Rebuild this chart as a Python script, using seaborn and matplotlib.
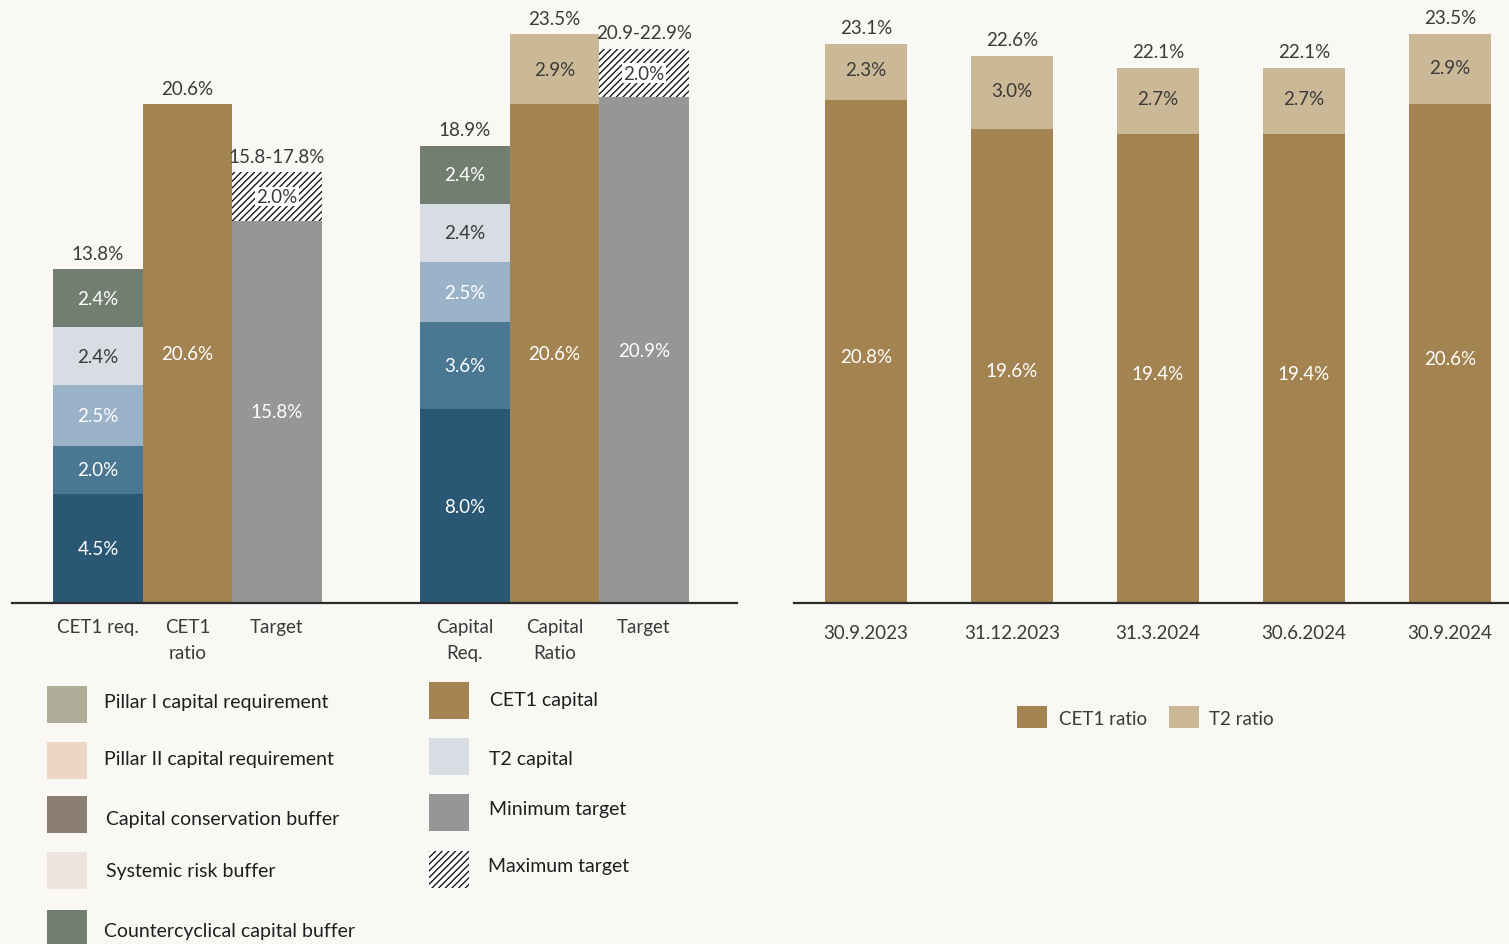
import matplotlib
matplotlib.use("Agg")
import matplotlib.pyplot as plt
import seaborn as sns
from matplotlib.patches import Rectangle

# ---------------- data ----------------
left_categories = ["CET1 req.", "CET1\nratio", "Target", "Capital\nReq.", "Capital\nRatio", "Target"]
cet1_req_parts = [4.5, 2.0, 2.5, 2.4, 2.4]
cap_req_parts = [8.0, 3.6, 2.5, 2.4, 2.4]
cet1_ratio = [20.6]
capital_ratio_parts = [20.6, 2.9]
cet1_target_parts = [15.8, 2.0]
cap_target_parts = [20.9, 2.0]
left_top_labels = ["13.8%", "20.6%", "15.8-17.8%", "18.9%", "23.5%", "20.9-22.9%"]

dates = ["30.9.2023", "31.12.2023", "31.3.2024", "30.6.2024", "30.9.2024"]
cet1_hist = [20.8, 19.6, 19.4, 19.4, 20.6]
t2_hist = [2.3, 3.0, 2.7, 2.7, 2.9]
total_hist = [23.1, 22.6, 22.1, 22.1, 23.5]

legend_left = ["Pillar I capital requirement", "Pillar II capital requirement",
               "Capital conservation buffer", "Systemic risk buffer",
               "Countercyclical capital buffer"]
legend_mid = ["CET1 capital", "T2 capital", "Minimum target", "Maximum target"]
legend_right = ["CET1 ratio", "T2 ratio"]

# ---------------- style ----------------
BG = "#F9F8F4"
DARK = "#3A3A3A"
C_DBLUE = "#2A5874"
C_MBLUE = "#4A7892"
C_LBLUE = "#9BB3C8"
C_GBLUE = "#D8DCE3"
C_GREEN = "#717E70"
C_BROWN = "#A38350"
C_TAN = "#CBB896"
C_GRAY = "#969696"
req_colors = [C_DBLUE, C_MBLUE, C_LBLUE, C_GBLUE, C_GREEN]
req_txt = ["white", "white", "white", DARK, "white"]

sns.set_style("white")
plt.rcParams["font.family"] = ["Lato", "DejaVu Sans"]
plt.rcParams["hatch.linewidth"] = 1.0
plt.rcParams["hatch.color"] = "#1a1a1a"

W, H = 1509, 945
fig = plt.figure(figsize=(W / 100, H / 100), dpi=100, facecolor=BG)
FS = 13.5
PX_PER_PCT = 24.2
HATCH = "/////"


def seg(ax, x, bottom, h, color, width=1.0, hatch=None):
    kw = dict(x=[x], y=[h], bottom=bottom, color=color, width=width,
              native_scale=True, errorbar=None, ax=ax, saturation=1,
              orient="x", linewidth=0)
    if hatch:
        kw.update(hatch=hatch, edgecolor="#1a1a1a")
    sns.barplot(**kw)


def style_ax(ax):
    ax.set_facecolor(BG)
    for s in ["left", "right", "top"]:
        ax.spines[s].set_visible(False)
    ax.spines["bottom"].set_color("#2b2b2b")
    ax.spines["bottom"].set_linewidth(1.6)
    ax.set_yticks([])
    ax.set_ylabel("")
    ax.set_xlabel("")
    ax.tick_params(axis="x", length=0, pad=11, labelsize=FS, labelcolor=DARK)


# ---------------- left chart ----------------
ax1 = fig.add_axes([12 / W, (H - 604) / H, 725 / W, 604 / H])
pos = [0, 1, 2, 4.1, 5.1, 6.1]


def req_stack(x, parts):
    b = 0
    for v, c, tc in zip(parts, req_colors, req_txt):
        seg(ax1, x, b, v, c)
        ax1.text(x, b + v / 2, f"{v:.1f}%", ha="center", va="center",
                 color=tc, fontsize=FS)
        b += v
    return b


def target_stack(x, parts):
    seg(ax1, x, 0, parts[0], C_GRAY)
    ax1.text(x, parts[0] / 2, f"{parts[0]:.1f}%", ha="center", va="center",
             color="white", fontsize=FS)
    seg(ax1, x, parts[0], parts[1], "white", hatch=HATCH)
    ax1.text(x, parts[0] + parts[1] / 2, f"{parts[1]:.1f}%", ha="center",
             va="center", color=DARK, fontsize=FS,
             bbox=dict(facecolor="white", edgecolor="none", pad=0.8))
    return parts[0] + parts[1]


tops = []
tops.append(req_stack(pos[0], cet1_req_parts))
seg(ax1, pos[1], 0, cet1_ratio[0], C_BROWN)
ax1.text(pos[1], cet1_ratio[0] / 2, f"{cet1_ratio[0]:.1f}%", ha="center",
         va="center", color="white", fontsize=FS)
tops.append(cet1_ratio[0])
tops.append(target_stack(pos[2], cet1_target_parts))
tops.append(req_stack(pos[3], cap_req_parts))
seg(ax1, pos[4], 0, capital_ratio_parts[0], C_BROWN)
ax1.text(pos[4], capital_ratio_parts[0] / 2, f"{capital_ratio_parts[0]:.1f}%",
         ha="center", va="center", color="white", fontsize=FS)
seg(ax1, pos[4], capital_ratio_parts[0], capital_ratio_parts[1], C_TAN)
ax1.text(pos[4], capital_ratio_parts[0] + capital_ratio_parts[1] / 2,
         f"{capital_ratio_parts[1]:.1f}%", ha="center", va="center",
         color=DARK, fontsize=FS)
tops.append(sum(capital_ratio_parts))
tops.append(target_stack(pos[5], cap_target_parts))

for x, t, lab in zip(pos, tops, left_top_labels):
    ax1.annotate(lab, (x, t), xytext=(0, 11.5), textcoords="offset points",
                 ha="center", va="center", color=DARK, fontsize=FS)

style_ax(ax1)
ax1.set_xlim((12 - 98) / 89.5, (737 - 98) / 89.5)
ax1.set_ylim(0, 604 / PX_PER_PCT)
ax1.set_xticks(pos)
ax1.set_xticklabels(left_categories, linespacing=1.65)

# ---------------- right chart ----------------
ax2 = fig.add_axes([794 / W, (H - 604) / H, 715 / W, 604 / H])
xr = list(range(len(dates)))
for x, c, t, tot in zip(xr, cet1_hist, t2_hist, total_hist):
    seg(ax2, x, 0, c, C_BROWN, width=0.56)
    seg(ax2, x, c, t, C_TAN, width=0.56)
    ax2.annotate(f"{c:.1f}%", (x, c / 2), xytext=(0, -3.5),
                 textcoords="offset points", ha="center", va="center",
                 color="white", fontsize=FS)
    ax2.annotate(f"{t:.1f}%", (x, c + t / 2), xytext=(0, 1.5),
                 textcoords="offset points", ha="center", va="center",
                 color=DARK, fontsize=FS)
    ax2.annotate(f"{tot:.1f}%", (x, c + t), xytext=(0, 12),
                 textcoords="offset points", ha="center", va="center",
                 color=DARK, fontsize=FS)
style_ax(ax2)
ax2.set_xlim(-72 / 146, 643 / 146)
ax2.set_ylim(0, 604 / PX_PER_PCT)
ax2.set_xticks(xr)
ax2.set_xticklabels(dates)
ax2.tick_params(axis="x", pad=15)


# ---------------- legends ----------------
def box(x, y, w, h, color, hatch=None):
    r = Rectangle((x / W, 1 - (y + h) / H), w / W, h / H,
                  transform=fig.transFigure, facecolor=color,
                  edgecolor="#1a1a1a" if hatch else color,
                  linewidth=0, hatch=hatch)
    fig.add_artist(r)


def ftext(x, y, s):
    fig.text(x / W, 1 - y / H, s, ha="left", va="center", fontsize=FS + 0.5,
             color="#1e1e1e")


left_leg_colors = ["#AEAE98", "#EDD6C3", "#8A7F71", "#EDE5DD", C_GREEN]
left_box_y = [687, 743, 797, 853, 911]
left_txt = [(104, 703), (104, 760), (106, 820), (106, 872), (104, 932)]
for lab, c, by, (tx, ty) in zip(legend_left, left_leg_colors, left_box_y, left_txt):
    box(47, by, 40, 37, c)
    ftext(tx, ty, lab)

mid_colors = [C_BROWN, C_GBLUE, C_GRAY, "white"]
mid_box_y = [683, 739, 795, 852]
mid_txt = [(490, 701), (489, 759), (489, 809), (488, 867)]
for i, (lab, c, by, (tx, ty)) in enumerate(zip(legend_mid, mid_colors, mid_box_y, mid_txt)):
    box(429, by, 40, 37, c, hatch=HATCH if i == 3 else None)
    ftext(tx, ty, lab)

for lab, c, bx, tx in zip(legend_right, [C_BROWN, C_TAN], [1017, 1169], [1059, 1209]):
    box(bx, 707, 30, 22, c)
    fig.text(tx / W, 1 - 720 / H, lab, ha="left", va="center", fontsize=FS,
             color=DARK)

fig.savefig("out.png", dpi=100, facecolor=BG)
